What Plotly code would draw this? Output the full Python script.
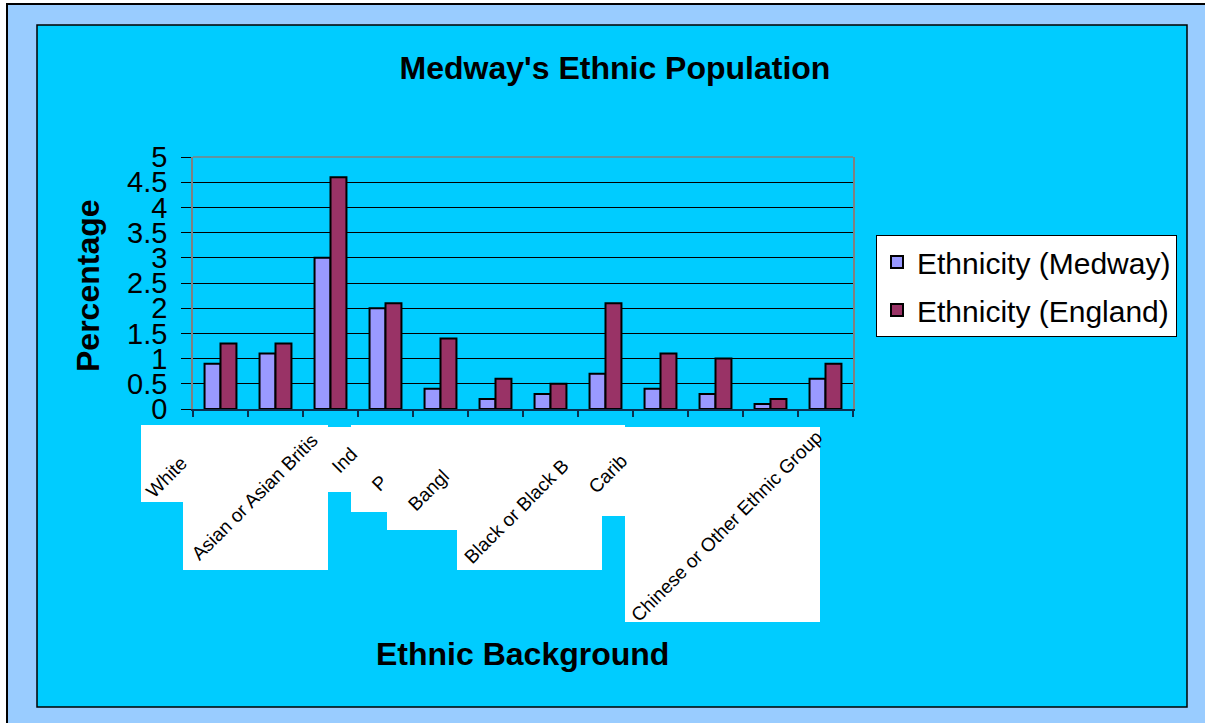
import plotly.graph_objects as go

# ---- data ----
categories = ["White Irish", "Mixed", "Asian or Asian British", "Indian", "Pakistani",
              "Bangladeshi", "Other Asian", "Black or Black British", "Caribbean",
              "African", "Other Black", "Chinese or Other Ethnic Group"]
medway = [0.9, 1.1, 3.0, 2.0, 0.4, 0.2, 0.3, 0.7, 0.4, 0.3, 0.1, 0.6]
england = [1.3, 1.3, 4.6, 2.1, 1.4, 0.6, 0.5, 2.1, 1.1, 1.0, 0.2, 0.9]
series_names = ["Ethnicity (Medway)", "Ethnicity (England)"]
# category labels as they are visible (partly hidden) in the original picture
visible_labels = ["White", "Asian or Asian Britis", "Ind", "P", "Bangl",
                  "Black or Black B", "Carib", "Chinese or Other Ethnic Group"]
title_text = "Medway's Ethnic Population"
x_title = "Ethnic Background"
y_title = "Percentage"

# ---- layout geometry (pixels) ----
W, H = 1205, 723
PL, PR, PT, PB = 193, 853, 157, 409  # plot area


def px(x):
    return (x - PL) / (PR - PL)


def py(y):
    return (PB - y) / (PB - PT)


FONT = "Liberation Sans, Arial, sans-serif"

fig = go.Figure()
fig.add_trace(go.Bar(x=categories, y=medway, name=series_names[0],
                     marker=dict(color="#9999FF", line=dict(color="black", width=2)),
                     legendgroup="a"))
fig.add_trace(go.Bar(x=categories, y=england, name=series_names[1],
                     marker=dict(color="#993366", line=dict(color="black", width=2)),
                     legendgroup="b"))

shapes = []
# outer light-blue frame
shapes.append(dict(type="rect", xref="paper", yref="paper", layer="below",
                   x0=px(7), x1=px(1220), y0=py(4), y1=py(740),
                   fillcolor="#99CCFF", line=dict(color="black", width=2)))
# inner cyan chart area
shapes.append(dict(type="rect", xref="paper", yref="paper", layer="below",
                   x0=px(37), x1=px(1187), y0=py(25), y1=py(707),
                   fillcolor="#00CCFF", line=dict(color="black", width=1.5)))
# white label boxes (glitchy rendering of the category labels)
boxes = [(141, 183, 425, 502), (183, 328, 425, 570), (328, 351, 427, 492),
         (351, 387, 425, 512), (387, 457, 425, 530), (457, 602, 425, 570),
         (602, 625, 425, 516), (625, 820, 427, 622)]
for x0, x1, y0, y1 in boxes:
    shapes.append(dict(type="rect", xref="paper", yref="paper", layer="above",
                       x0=px(x0), x1=px(x1), y0=py(y0), y1=py(y1),
                       fillcolor="white", line=dict(width=0)))
# top border of plot area
shapes.append(dict(type="line", xref="x domain", yref="y domain", x0=0, x1=1, y0=1, y1=1,
                   line=dict(color="#808080", width=1.5)))

annotations = []
label_centers = [(166, 477), (254, 497), (344, 460), (379, 483), (428, 490),
                 (516, 511), (607, 474), (726, 526)]
for txt, (cx, cy) in zip(visible_labels, label_centers):
    annotations.append(dict(text=txt, xref="paper", yref="paper", x=px(cx), y=py(cy),
                            xanchor="center", yanchor="middle", textangle=-45,
                            showarrow=False, font=dict(family=FONT, size=19, color="black")))
annotations.append(dict(text="<b>%s</b>" % x_title, xref="paper", yref="paper",
                        x=px(522), y=py(654), xanchor="center", yanchor="middle",
                        showarrow=False, font=dict(family=FONT, size=32, color="black")))
annotations.append(dict(text="<b>%s</b>" % y_title, xref="paper", yref="paper",
                        x=px(88), y=py(286), xanchor="center", yanchor="middle",
                        textangle=-90, showarrow=False,
                        font=dict(family=FONT, size=32, color="black")))

fig.update_layout(
    width=W, height=H,
    margin=dict(l=PL, r=W - PR, t=PT, b=H - PB, pad=0),
    paper_bgcolor="white",
    plot_bgcolor="#C0C0C0",
    barmode="group", bargap=0.42, bargroupgap=0,
    title=dict(text="<b>%s</b>" % title_text, x=615 / W, xref="container", xanchor="center",
               y=1 - 68 / H, yref="container", yanchor="middle",
               font=dict(family=FONT, size=32, color="black")),
    legend=dict(x=px(876), y=py(235), xanchor="left", yanchor="top",
                bgcolor="white", bordercolor="black", borderwidth=1,
                font=dict(family=FONT, size=30, color="black"),
                traceorder="grouped", tracegroupgap=6),
    shapes=shapes,
    annotations=annotations,
    showlegend=True,
)
fig.update_xaxes(showticklabels=False, showgrid=False, showline=True,
                 linecolor="#0A3050", linewidth=1.5, ticks="outside", tickson="boundaries",
                 ticklen=6, tickcolor="#0A3050", tickwidth=1.5)
fig.update_yaxes(range=[0, 5], dtick=0.5, showgrid=True, gridcolor="black", gridwidth=1,
                 zeroline=False, showline=True, linecolor="#808080", linewidth=1.5, mirror=True,
                 ticks="outside", ticklen=10, tickcolor="black", tickwidth=1,
                 ticklabelstandoff=8,
                 tickfont=dict(family=FONT, size=29, color="black"))

fig.write_html("out.html")
